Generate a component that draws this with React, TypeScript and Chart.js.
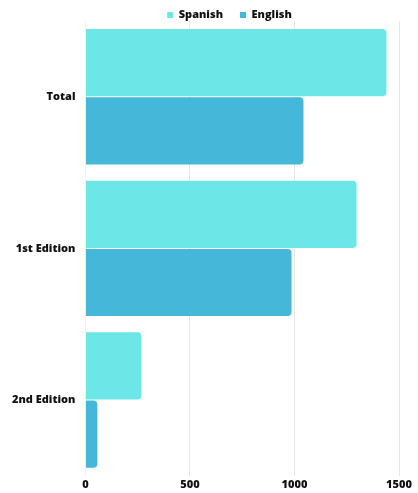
import React, { useEffect, useRef } from "react";
import { Chart, registerables } from "chart.js";

Chart.register(...registerables);

const categories = ["Total", "1st Edition", "2nd Edition"];
const spanish = [1440, 1297, 268];
const english = [1043, 986, 57];
const seriesNames = ["Spanish", "English"];
const xTicks = [0, 500, 1000, 1500];

const legendTweak = {
  id: "legendTweak",
  afterInit(chart: any) {
    const lg = chart.legend;
    if (lg && !lg.__wrapped) {
      const orig = lg.fit.bind(lg);
      lg.fit = function () {
        orig();
        this.height = 21;
        this.minSize = { width: this.width, height: 21 };
      };
      lg.__wrapped = true;
    }
  },
  afterLayout(chart: any) {
    const lg = chart.legend;
    if (!lg) return;
    lg.top -= 7.5;
    lg.bottom = lg.top + 40;
    lg.left += 29;
    lg.right += 29;
  },
};

export default function App() {
  const ref = useRef<HTMLCanvasElement | null>(null);
  useEffect(() => {
    if (!ref.current) return;
    const font = { family: "'Open Sans', sans-serif", size: 11, weight: "800" as any };
    const chart = new Chart(ref.current, {
      type: "bar",
      data: {
        labels: categories,
        datasets: [
          {
            label: seriesNames[0],
            data: spanish,
            backgroundColor: "#6de6e8",
            borderRadius: 4,
            categoryPercentage: 0.9,
            barPercentage: 0.985,
          },
          {
            label: seriesNames[1],
            data: english,
            backgroundColor: "#45b8d9",
            borderRadius: 4,
            categoryPercentage: 0.9,
            barPercentage: 0.985,
          },
        ],
      },
      options: {
        indexAxis: "y",
        animation: false,
        responsive: false,
        layout: { padding: { left: 2, right: 19, top: 0, bottom: 0 } },
        plugins: {
          legend: {
            position: "top",
            labels: {
              boxWidth: 6,
              boxHeight: 6,
              padding: 17,
              color: "#111",
              font,
            },
          },
          tooltip: { enabled: false },
        },
        scales: {
          x: {
            min: 0,
            max: 1500,
            afterBuildTicks: (axis: any) => {
              axis.ticks = xTicks.map((v) => ({ value: v }));
            },
            ticks: { color: "#111", font, padding: 2, callback: (v: any) => String(v) },
            grid: { color: "#e6e6e6", drawTicks: false },
            border: { display: false },
          },
          y: {
            ticks: { color: "#111", font, padding: 10 },
            grid: { display: false, drawTicks: false },
            border: { display: true, color: "#f2f2f2" },
          },
        },
      },
      plugins: [legendTweak],
    });
    return () => chart.destroy();
  }, []);
  return (
    <div style={{ position: "fixed", left: 0, top: 0, width: 418, height: 493, background: "#fff" }}>
      <canvas ref={ref} width={418} height={493} />
    </div>
  );
}
